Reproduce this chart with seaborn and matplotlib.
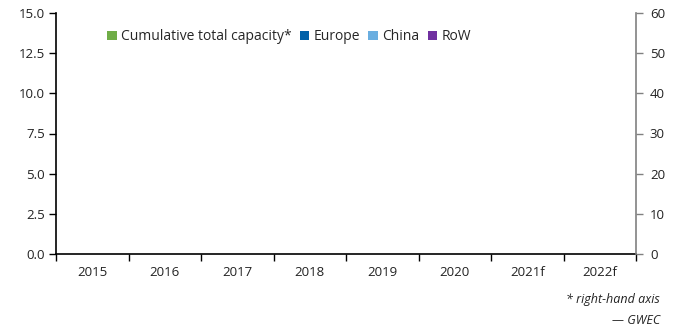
import matplotlib
matplotlib.use("Agg")
import matplotlib.pyplot as plt
from matplotlib.patches import Patch
import numpy as np
import seaborn as sns

# Categories and series (no values published for these years)
years = ["2015", "2016", "2017", "2018", "2019", "2020", "2021f", "2022f"]
series_names = ["Cumulative total capacity*", "Europe", "China", "RoW"]
series_colors = ["#70ad47", "#0060a8", "#6aaee0", "#7030a0"]
left_ticks = [0.0, 2.5, 5.0, 7.5, 10.0, 12.5, 15.0]
right_ticks = [0, 10, 20, 30, 40, 50, 60]

sns.set_theme(style="ticks")
plt.rcParams["font.family"] = ["Open Sans", "DejaVu Sans"]

fig = plt.figure(figsize=(6.86, 3.30), dpi=100)
ax = fig.add_axes([56 / 686, 1 - 254 / 330, 580 / 686, 241 / 330])
ax2 = ax.twinx()

n = len(years)
ax.set_xlim(-0.5, n - 0.5)
ax.set_ylim(left_ticks[0], left_ticks[-1])
ax2.set_ylim(right_ticks[0], right_ticks[-1])

# Category labels centred, tick marks at category boundaries
ax.set_xticks(np.arange(n))
ax.set_xticklabels(years)
ax.set_xticks(np.arange(n + 1) - 0.5, minor=True)
ax.tick_params(axis="x", which="major", length=0, pad=9, labelsize=9.5, colors="#222222")
ax.tick_params(axis="x", which="minor", length=5, width=1, color="black", direction="out")

ax.set_yticks(left_ticks)
ax.set_yticklabels([f"{v:.1f}" for v in left_ticks])
ax.tick_params(axis="y", length=5, width=1, color="black", labelsize=9.5,
               labelcolor="#222222", pad=3)

ax2.set_yticks(right_ticks)
ax2.tick_params(axis="y", length=5, width=1, color="#808080", labelsize=9.5,
                labelcolor="#222222", pad=5)

for a in (ax, ax2):
    a.spines["top"].set_visible(False)
    a.grid(False)
ax.spines["right"].set_visible(False)
ax.spines["left"].set_color("black")
ax.spines["bottom"].set_color("black")
ax.spines["left"].set_linewidth(1.2)
ax.spines["bottom"].set_linewidth(1.2)
ax2.spines["left"].set_visible(False)
ax2.spines["bottom"].set_visible(False)
ax2.spines["right"].set_color("#808080")
ax2.spines["right"].set_linewidth(1.2)

handles = [Patch(facecolor=c, edgecolor="none", label=s)
           for s, c in zip(series_names, series_colors)]
ax.legend(handles=handles, loc="upper left", bbox_to_anchor=(0.078, 0.955),
          ncol=4, frameon=False, fontsize=10, handlelength=0.7, handleheight=0.7,
          handletextpad=0.3, columnspacing=0.6, borderaxespad=0)

fig.text(660 / 686, 1 - 300 / 330, "* right-hand axis", ha="right", va="center",
         fontsize=9, style="italic", color="#222222")
fig.text(660 / 686, 1 - 320 / 330, "— GWEC", ha="right", va="center",
         fontsize=9, style="italic", color="#222222")

fig.savefig("out.png", dpi=100)
